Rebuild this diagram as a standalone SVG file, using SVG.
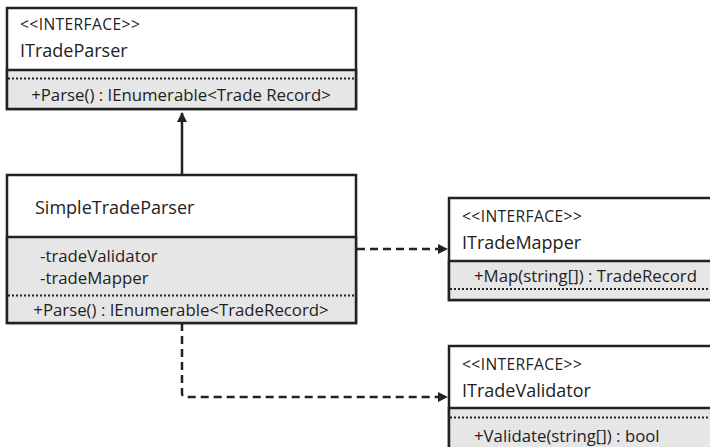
<svg xmlns="http://www.w3.org/2000/svg" width="710" height="447" viewBox="0 0 710 447">
<style>
.box{fill:#fff;stroke:#222;stroke-width:2.5}
.sec{fill:#e6e6e6;stroke:#222;stroke-width:2.5}
.dot{stroke:#222;stroke-width:2;stroke-dasharray:2 2;fill:none}
text{font-family:"Open Sans","Noto Sans",sans-serif;fill:#222}
.st{font-size:15.6px;letter-spacing:0.4px}
.nm{font-size:18px}
.mb{font-size:16.8px}
.conn{stroke:#222;stroke-width:2.5;fill:none}
.dash{stroke-dasharray:8 5}
</style>
<defs>
<marker id="arr" viewBox="0 0 10 10" refX="9" refY="5" markerWidth="4" markerHeight="4" orient="auto" markerUnits="strokeWidth">
<path d="M0,0 L10,5 L0,10 z" fill="#222"/>
</marker>
</defs>
<g id="connectors">
<line class="conn" x1="182" y1="175" x2="182" y2="113" marker-end="url(#arr)"/>
<line class="conn dash" x1="357" y1="249" x2="447" y2="249" marker-end="url(#arr)"/>
<path class="conn dash" d="M182,323 V393 Q182,397 186,397 H447" marker-end="url(#arr)"/>
</g>
<g id="ITradeParser">
<rect class="box" x="7" y="8" width="349" height="101"/>
<rect class="sec" x="7" y="70" width="349" height="39"/>
<line class="dot" x1="8" y1="78.5" x2="355" y2="78.5"/>
<text class="st" x="20" y="30">&lt;&lt;INTERFACE&gt;&gt;</text>
<text class="nm" x="20" y="57">ITradeParser</text>
<text class="mb" x="181" y="101" text-anchor="middle">+Parse() : IEnumerable&lt;Trade Record&gt;</text>
</g>
<g id="SimpleTradeParser">
<rect class="box" x="7" y="175" width="349" height="148"/>
<rect class="sec" x="7" y="237" width="349" height="86"/>
<line class="dot" x1="8" y1="295.5" x2="355" y2="295.5"/>
<text class="nm" x="35" y="214">SimpleTradeParser</text>
<text class="mb" x="40" y="262">-tradeValidator</text>
<text class="mb" x="40" y="284">-tradeMapper</text>
<text class="mb" x="181" y="316" text-anchor="middle">+Parse() : IEnumerable&lt;TradeRecord&gt;</text>
</g>
<g id="ITradeMapper">
<rect class="box" x="449" y="198" width="275" height="102"/>
<rect class="sec" x="449" y="261" width="275" height="39"/>
<line class="dot" x1="450" y1="289" x2="712" y2="289"/>
<text class="st" x="462" y="222">&lt;&lt;INTERFACE&gt;&gt;</text>
<text class="nm" x="462" y="249">ITradeMapper</text>
<text class="mb" x="474" y="282">+Map(string[]) : TradeRecord</text>
</g>
<g id="ITradeValidator">
<rect class="box" x="449" y="346" width="275" height="110"/>
<rect class="sec" x="449" y="408" width="275" height="48"/>
<line class="dot" x1="450" y1="417.5" x2="712" y2="417.5"/>
<text class="st" x="462" y="370">&lt;&lt;INTERFACE&gt;&gt;</text>
<text class="nm" x="462" y="397">ITradeValidator</text>
<text class="mb" x="474" y="442">+Validate(string[]) : bool</text>
</g>
</svg>
